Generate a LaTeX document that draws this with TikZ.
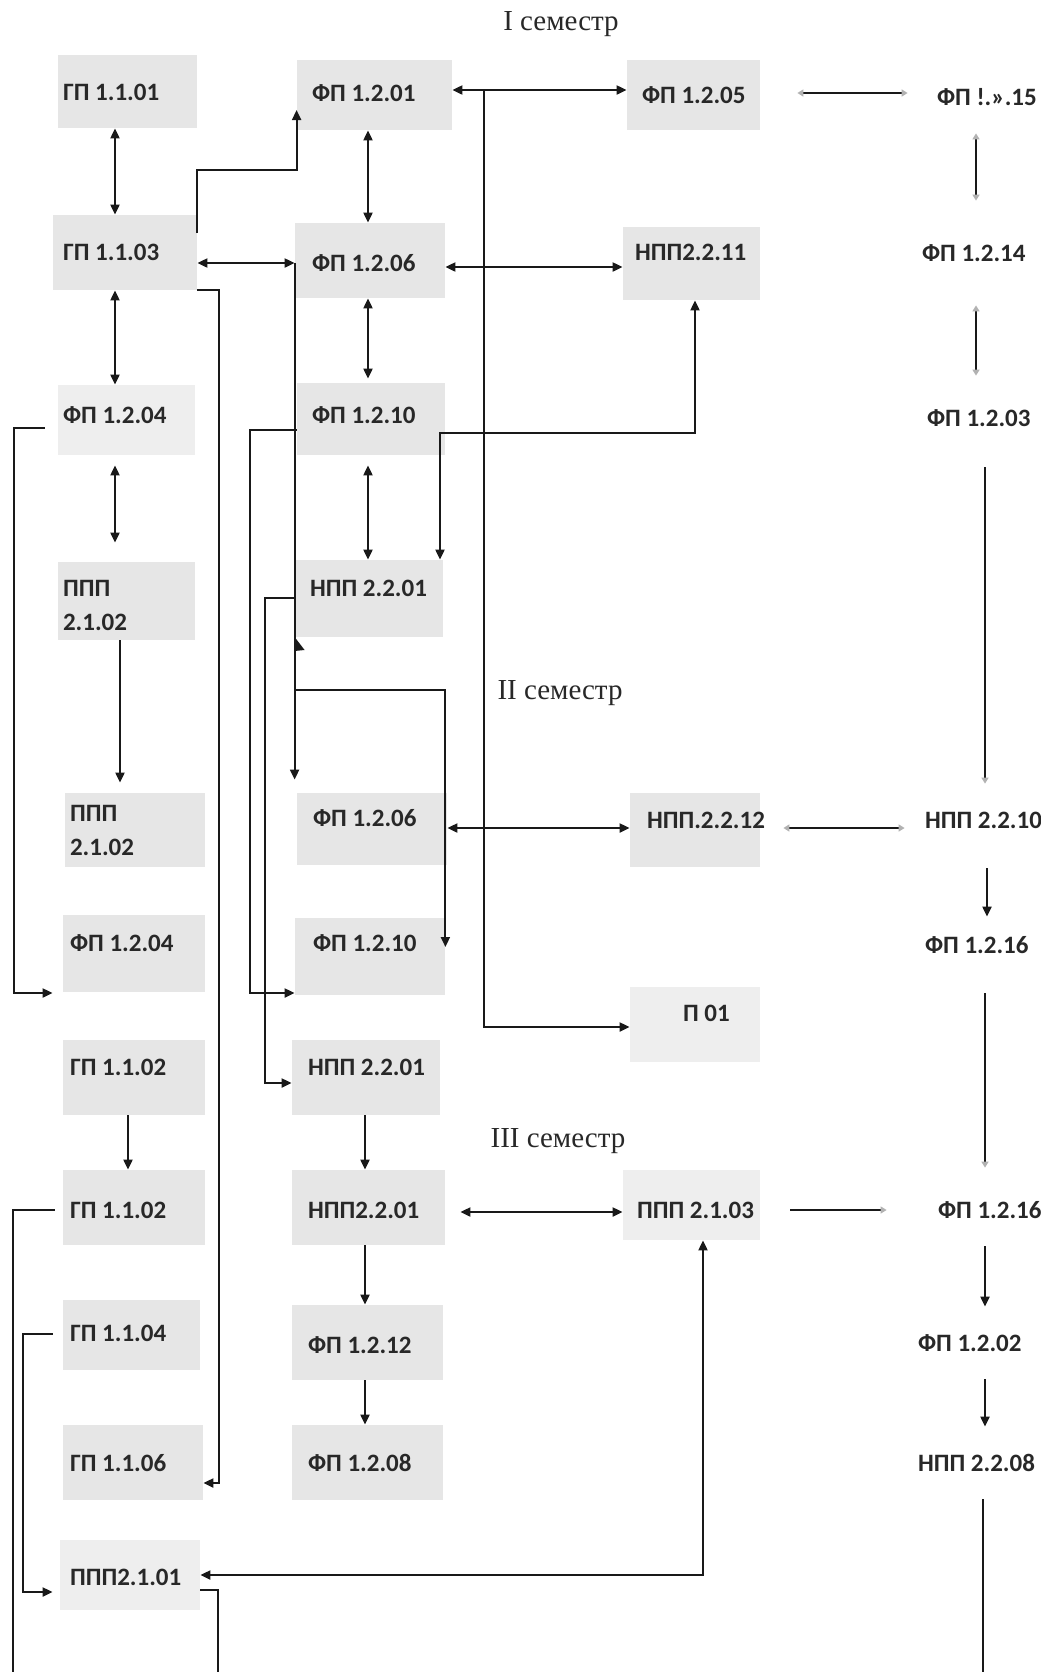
\documentclass[tikz,border=0pt]{standalone}
\usepackage{fontspec}
\newfontfamily\labfont{Carlito}
\newfontfamily\semfont{Liberation Serif}
\usetikzlibrary{arrows.meta}
\definecolor{boxg}{RGB}{230,230,230}
\definecolor{boxl}{RGB}{238,238,238}
\definecolor{txt}{RGB}{40,40,40}
\definecolor{lnc}{RGB}{25,25,25}
\newcommand{\twol}[2]{\begin{tabular}[b]{@{}l@{}}#1\\[3pt]#2\end{tabular}}
\newcommand{\bn}[9]{%
 \pgfmathsetmacro\bnw{(#4-#3)*0.5}%
 \pgfmathsetmacro\bnh{(#6-#5)*0.5}%
 \pgfmathsetmacro\bnxs{(#7-#3)*0.5}%
 \pgfmathsetmacro\bntw{\bnw-2*\bnxs}%
 \pgfmathsetmacro\bnr{((#5+#6)/2-#8)*0.5-4.0}%
 \node[#1,minimum width=\bnw pt,minimum height=\bnh pt,inner xsep=\bnxs pt,inner ysep=0pt] (#2) at ({(#3+#4)/2},{(#5+#6)/2}) {\makebox[\bntw pt][l]{\raisebox{\bnr pt}[0pt][0pt]{#9}}};}
\tikzset{
 lab/.style={font=\labfont\bfseries\fontsize{12.5pt}{14pt}\selectfont,text=txt},
 gbox/.style={lab,fill=boxg},
 lbox/.style={lab,fill=boxl},
 nobox/.style={lab},
 sem/.style={font=\semfont\fontsize{14.5pt}{16pt}\selectfont,text=txt},
 ln/.style={draw=lnc,line width=1pt},
 Bt/.tip={Triangle[length=5pt,width=4.5pt]},
 Ft/.tip={Triangle[length=3pt,width=3.5pt,color=gray!60]}
}
\begin{document}
\begin{tikzpicture}[x=0.5pt,y=-0.5pt]
\useasboundingbox (0,0) rectangle (1040,1672);
\fill[white] (0,0) rectangle (1040,1672);
% semester labels
\node[sem] (sem1) at (561,24) {I семестр};
\node[sem] (sem2) at (560,693) {II семестр};
\node[sem] (sem3) at (558,1141) {III семестр};
% column A
\bn{gbox}{gp101}{58}{197}{55}{128}{63}{92}{ГП 1.1.01}
\bn{gbox}{gp103}{53}{197}{215}{290}{63}{252}{ГП 1.1.03}
\bn{lbox}{fp104a}{58}{195}{385}{455}{63}{415}{ФП 1.2.04}
\bn{gbox}{ppp102a}{58}{195}{562}{640}{63}{622}{\twol{ППП}{2.1.02}}
\bn{gbox}{ppp102b}{65}{205}{793}{867}{70}{847}{\twol{ППП}{2.1.02}}
\bn{gbox}{fp104b}{63}{205}{915}{992}{70}{943}{ФП 1.2.04}
\bn{gbox}{gp102a}{63}{205}{1040}{1115}{70}{1067}{ГП 1.1.02}
\bn{gbox}{gp102b}{63}{205}{1170}{1245}{70}{1210}{ГП 1.1.02}
\bn{gbox}{gp104}{63}{200}{1300}{1370}{70}{1333}{ГП 1.1.04}
\bn{gbox}{gp106}{63}{203}{1425}{1500}{70}{1463}{ГП 1.1.06}
\bn{lbox}{ppp201}{60}{200}{1540}{1610}{70}{1577}{ППП2.1.01}
% column B
\bn{gbox}{fp201}{297}{452}{60}{130}{312}{93}{ФП 1.2.01}
\bn{gbox}{fp206a}{295}{445}{223}{298}{312}{263}{ФП 1.2.06}
\bn{gbox}{fp210a}{297}{445}{383}{455}{312}{415}{ФП 1.2.10}
\bn{gbox}{npp201a}{295}{443}{560}{637}{310}{588}{НПП 2.2.01}
\bn{gbox}{fp206b}{297}{447}{793}{865}{313}{818}{ФП 1.2.06}
\bn{gbox}{fp210b}{295}{445}{918}{995}{313}{943}{ФП 1.2.10}
\bn{gbox}{npp201b}{292}{440}{1040}{1115}{308}{1067}{НПП 2.2.01}
\bn{gbox}{npp201c}{292}{445}{1170}{1245}{308}{1210}{НПП2.2.01}
\bn{gbox}{fp212}{292}{443}{1305}{1380}{308}{1345}{ФП 1.2.12}
\bn{gbox}{fp208}{292}{443}{1425}{1500}{308}{1463}{ФП 1.2.08}
% column C
\bn{gbox}{fp205}{627}{760}{60}{130}{642}{95}{ФП 1.2.05}
\bn{gbox}{npp211}{623}{760}{227}{300}{635}{252}{НПП2.2.11}
\bn{gbox}{npp212}{630}{760}{793}{867}{647}{820}{НПП.2.2.12}
\bn{lbox}{p01}{630}{760}{987}{1062}{683}{1013}{П 01}
\bn{lbox}{ppp203}{623}{760}{1170}{1240}{637}{1210}{ППП 2.1.03}
% column D
\bn{nobox}{fp215}{908}{1058}{61}{133}{937}{97}{ФП !.».15}
\bn{nobox}{fp214}{896}{1046}{217}{289}{922}{253}{ФП 1.2.14}
\bn{nobox}{fp203}{901}{1051}{382}{454}{927}{418}{ФП 1.2.03}
\bn{nobox}{npp210}{905}{1055}{784}{856}{925}{820}{НПП 2.2.10}
\bn{nobox}{fp216a}{900}{1050}{909}{981}{925}{945}{ФП 1.2.16}
\bn{nobox}{fp216b}{911}{1061}{1174}{1246}{938}{1210}{ФП 1.2.16}
\bn{nobox}{fp202}{891}{1041}{1307}{1379}{918}{1343}{ФП 1.2.02}
\bn{nobox}{npp208}{899}{1049}{1427}{1499}{918}{1463}{НПП 2.2.08}
% free ends and junctions
\coordinate (j1) at (fp206a.west |- 0,263);
\coordinate (j2) at (484,90);
\coordinate (e1) at (983,1672);
\coordinate (e2) at (13,1672);
\coordinate (e3) at (218,1672);
% connectors, column A
\draw[ln,Bt-Bt] (gp101.south -| 115,0) -- (gp103.north -| 115,0);
\draw[ln,Bt-Bt] (gp103.south -| 115,0) -- (fp104a.north -| 115,0);
\draw[ln,Bt-Bt,shorten <=5pt,shorten >=9.5pt] (fp104a.south -| 115,0) -- (ppp102a.north -| 115,0);
\draw[ln,-Bt,shorten >=5pt] (ppp102a.south -| 120,0) -- (ppp102b.north -| 120,0);
\draw[ln,-Bt] (gp102a.south -| 128,0) -- (gp102b.north -| 128,0);
% column B
\draw[ln,Bt-Bt] (fp201.south -| 368,0) -- (fp206a.north -| 368,0);
\draw[ln,Bt-Bt,shorten >=2pt] (fp206a.south -| 368,0) -- (fp210a.north -| 368,0);
\draw[ln,Bt-Bt,shorten <=5pt] (fp210a.south -| 368,0) -- (npp201a.north -| 368,0);
\draw[ln,-Bt] (npp201b.south -| 365,0) -- (npp201c.north -| 365,0);
\draw[ln,-Bt] (npp201c.south -| 365,0) -- (fp212.north -| 365,0);
\draw[ln,-Bt] (fp212.south -| 365,0) -- (fp208.north -| 365,0);
% cross links
\draw[ln,-Bt] (gp103.east |- 0,233) -- (gp103.east |- 0,170) -| (fp201.west |- 0,110);
\draw[ln,Bt-Bt] (gp103.east |- j1) -- (j1);
\draw[ln,-Bt,shorten >=6.5pt] (j1) -- (j1 |- fp206b.north);
\draw[ln,-Bt] (j1 |- 0,690) -| (fp210b.east |- 0,947);
\fill[lnc] (j1 |- 0,637) -- ++(10,13) -- ++(-10,1) -- cycle;
\draw[ln,-Bt] (gp103.south east) -- ++(22,0) |- (gp106.east |- 0,1483);
\draw[ln,-Bt,shorten <=6.5pt,shorten >=5pt] (fp104a.west |- 0,428) -- (14,428) |- (fp104b.west |- 0,993);
\draw[ln,-Bt] (fp210a.west |- 0,430) -- (250,430) |- (fp210b.west |- 0,993);
\draw[ln,-Bt] (npp201a.west |- 0,598) -- (265,598) |- (npp201b.west |- 0,1083);
\draw[ln,Bt-Bt] (fp201.east |- 0,90) -- (fp205.west |- 0,90);
\draw[ln,-Bt] (j2) |- (p01.west |- 0,1027);
\draw[ln,Bt-Bt] (fp206a.east |- 0,267) -- (npp211.west |- 0,267);
\draw[ln,Bt-Bt] (npp211.south -| 695,0) |- (440,433) -- (npp201a.north -| 440,0);
\draw[ln,Bt-Bt] (fp206b.east |- 0,828) -- (npp212.west |- 0,828);
\draw[ln,Bt-Bt,shorten <=7.5pt] (npp201c.east |- 0,1212) -- (ppp203.west |- 0,1212);
\draw[ln,Bt-Bt] (ppp201.east |- 0,1575) -| (ppp203.south -| 703,0);
\draw[ln,shorten <=4pt] (gp102b.west |- 0,1210) -| (e2);
\draw[ln,-Bt,shorten <=5pt,shorten >=3.5pt] (gp104.west |- 0,1334) -- (23,1334) |- (ppp201.west |- 0,1592);
\draw[ln] (ppp201.east |- 0,1590) -| (e3);
% right column
\draw[ln,Ft-Ft,shorten <=18.5pt] (fp205.east |- 0,93) -- (fp215.west |- 0,93);
\draw[ln,Ft-Ft,shorten <=11.5pt] (npp212.east |- 0,828) -- (npp210.west |- 0,828);
\draw[ln,-Ft,shorten <=15pt,shorten >=12pt] (ppp203.east |- 0,1210) -- (fp216b.west |- 0,1210);
\draw[ln,Ft-Ft,shorten >=8pt] (fp215.south -| 976,0) -- (fp214.north -| 976,0);
\draw[ln,Ft-Ft,shorten <=8pt,shorten >=3pt] (fp214.south -| 976,0) -- (fp203.north -| 976,0);
\draw[ln,-Ft,shorten <=6.5pt] (fp203.south -| 985,0) -- (npp210.north -| 985,0);
\draw[ln,-Bt,shorten <=6pt,shorten >=-4pt] (npp210.south -| 987,0) -- (fp216a.north -| 987,0);
\draw[ln,-Ft,shorten <=6pt,shorten >=3pt] (fp216a.south -| 985,0) -- (fp216b.north -| 985,0);
\draw[ln,-Bt] (fp216b.south -| 985,0) -- (fp202.north -| 985,0);
\draw[ln,-Bt] (fp202.south -| 985,0) -- (npp208.north -| 985,0);
\draw[ln] (npp208.south -| e1) -- (e1);
\end{tikzpicture}
\end{document}
